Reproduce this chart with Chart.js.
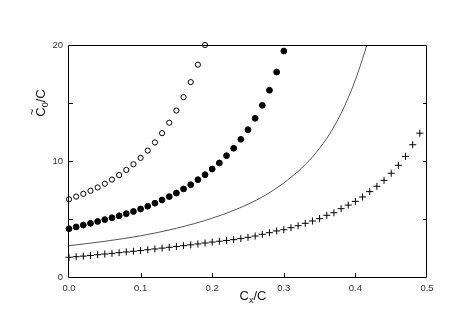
<!DOCTYPE html>
<html><head><meta charset="utf-8">
<script src="https://cdn.jsdelivr.net/npm/chart.js@4"></script>
<style>html,body{margin:0;padding:0;background:#fff}#wrap{width:471px;height:327px}</style>
</head><body><div id="wrap"><canvas id="c"></canvas></div>
<script>
const xTicks = [0.0, 0.1, 0.2, 0.3, 0.4, 0.5];
const yTicks = [0, 10, 20];
const yMinorTicks = [5, 15];

const openX = [0,0.01,0.02,0.03,0.04,0.05,0.06,0.07,0.08,0.09,0.10,0.11,0.12,0.13,0.14,0.15,0.16,0.17,0.18,0.19];
const openY = [6.7,6.93,7.17,7.43,7.72,8.04,8.4,8.79,9.23,9.72,10.27,10.9,11.6,12.4,13.3,14.35,15.5,16.8,18.3,20.0];

const filledX = [0,0.01,0.02,0.03,0.04,0.05,0.06,0.07,0.08,0.09,0.10,0.11,0.12,0.13,0.14,0.15,0.16,0.17,0.18,0.19,0.20,0.21,0.22,0.23,0.24,0.25,0.26,0.27,0.28,0.29,0.30];
const filledY = [4.16,4.32,4.48,4.63,4.79,4.95,5.11,5.28,5.46,5.65,5.86,6.1,6.36,6.64,6.93,7.24,7.59,7.96,8.39,8.82,9.31,9.83,10.46,11.1,11.87,12.7,13.68,14.8,16.1,17.67,19.48];

const lineX = [0,0.025,0.05,0.075,0.1,0.125,0.15,0.175,0.2,0.225,0.25,0.275,0.3,0.31,0.32,0.33,0.34,0.35,0.36,0.37,0.38,0.39,0.4,0.41,0.416];
const lineY = [2.7,2.88,3.08,3.3,3.55,3.85,4.2,4.6,5.07,5.62,6.27,7.08,8.1,8.6,9.1,9.7,10.35,11.1,11.95,12.95,14.1,15.45,17.0,18.8,20.0];

const plusX = [0,0.01,0.02,0.03,0.04,0.05,0.06,0.07,0.08,0.09,0.10,0.11,0.12,0.13,0.14,0.15,0.16,0.17,0.18,0.19,0.20,0.21,0.22,0.23,0.24,0.25,0.26,0.27,0.28,0.29,0.30,0.31,0.32,0.33,0.34,0.35,0.36,0.37,0.38,0.39,0.40,0.41,0.42,0.43,0.44,0.45,0.46,0.47,0.48,0.49];
const plusY = [1.70,1.75,1.80,1.86,1.92,1.98,2.04,2.10,2.16,2.22,2.28,2.35,2.42,2.49,2.56,2.63,2.70,2.77,2.85,2.93,3.01,3.08,3.15,3.22,3.31,3.42,3.53,3.68,3.82,3.97,4.08,4.25,4.42,4.63,4.83,5.03,5.32,5.54,5.89,6.2,6.52,6.9,7.36,7.82,8.33,8.94,9.63,10.4,11.4,12.4];

const pts = (xs, ys) => xs.map((x, i) => ({x: x, y: ys[i]}));

const FONT = '"Liberation Sans", Arial, sans-serif';

const decor = {
  id: 'decor',
  afterDraw(chart) {
    const ctx = chart.ctx;
    const a = chart.chartArea;
    const xs = chart.scales.x, ys = chart.scales.y;
    ctx.save();
    ctx.strokeStyle = '#000';
    ctx.lineWidth = 1;
    ctx.beginPath();
    ctx.rect(Math.round(a.left) - 0.5, Math.round(a.top) + 0.5, Math.round(a.right - a.left), Math.round(a.bottom - a.top));
    ctx.stroke();
    ctx.beginPath();
    xTicks.forEach(v => {
      if (v <= 0 || v >= 0.5) return;
      const px = Math.round(xs.getPixelForValue(v)) + 0.5;
      ctx.moveTo(px, a.bottom); ctx.lineTo(px, a.bottom - 4);
    });
    yTicks.concat(yMinorTicks).forEach(v => {
      if (v <= 0 || v >= 20) return;
      const py = Math.round(ys.getPixelForValue(v)) + 0.5;
      ctx.moveTo(a.left - 1, py); ctx.lineTo(a.left + 4, py);
      ctx.moveTo(a.right, py); ctx.lineTo(a.right - 4, py);
    });
    ctx.stroke();

    ctx.fillStyle = '#111';
    ctx.textBaseline = 'alphabetic';
    const big = '13px ' + FONT, small = '9px ' + FONT;
    ctx.font = big;
    const wC = ctx.measureText('C').width;
    const wSl = ctx.measureText('/C').width;
    ctx.font = small;
    const wx = ctx.measureText('x').width;
    let tw = wC + wx + wSl;
    let cx = (a.left + a.right) / 2 + 5 - tw / 2;
    const base = 300;
    ctx.font = big; ctx.fillText('C', cx, base);
    ctx.font = small; ctx.fillText('x', cx + wC, base + 3);
    ctx.font = big; ctx.fillText('/C', cx + wC + wx, base);

    ctx.save();
    ctx.translate(45, 103);
    ctx.rotate(-Math.PI / 2);
    ctx.font = small;
    const w0 = ctx.measureText('0').width;
    tw = wC + w0 + wSl;
    let sx = -tw / 2;
    ctx.font = big; ctx.fillText('C', sx, 0);
    ctx.font = '11px ' + FONT; ctx.fillText('~', sx + 1.5, -9);
    ctx.font = small; ctx.fillText('0', sx + wC, 3);
    ctx.font = big; ctx.fillText('/C', sx + wC + w0, 0);
    ctx.restore();
    ctx.restore();
  }
};

new Chart(document.getElementById('c'), {
  type: 'scatter',
  data: {
    datasets: [
      { data: pts(lineX, lineY), showLine: true, pointRadius: 0, borderColor: '#555', borderWidth: 1, cubicInterpolationMode: 'monotone', clip: false, order: 4 },
      { data: pts(plusX, plusY), pointStyle: 'cross', pointRadius: 3.5, borderColor: '#000', borderWidth: 1, backgroundColor: '#000', clip: false },
      { data: pts(filledX, filledY), pointStyle: 'circle', pointRadius: 2.9, borderColor: '#000', backgroundColor: '#000', borderWidth: 1, clip: false },
      { data: pts(openX, openY), pointStyle: 'circle', pointRadius: 2.6, borderColor: '#000', backgroundColor: '#fff', borderWidth: 1, clip: false }
    ]
  },
  options: {
    responsive: true, maintainAspectRatio: false, animation: false,
    layout: { padding: { top: 45, right: 44, left: 0, bottom: 0 } },
    plugins: { legend: { display: false }, tooltip: { enabled: false } },
    scales: {
      x: {
        type: 'linear', min: 0, max: 0.5,
        afterFit: s => { s.height = 50; },
        afterBuildTicks: s => { s.ticks = xTicks.map(v => ({ value: v })); },
        grid: { display: false, drawTicks: false },
        border: { display: false },
        ticks: { padding: 6, color: '#333', font: { family: FONT, size: 9.5 }, callback: v => v.toFixed(1), maxRotation: 0 }
      },
      y: {
        type: 'linear', min: 0, max: 20,
        afterFit: s => { s.width = 69; },
        afterBuildTicks: s => { s.ticks = yTicks.map(v => ({ value: v })); },
        grid: { display: false, drawTicks: false },
        border: { display: false },
        ticks: { padding: 6, color: '#333', font: { family: FONT, size: 9.5 } }
      }
    }
  },
  plugins: [decor]
});
</script>
</body></html>
